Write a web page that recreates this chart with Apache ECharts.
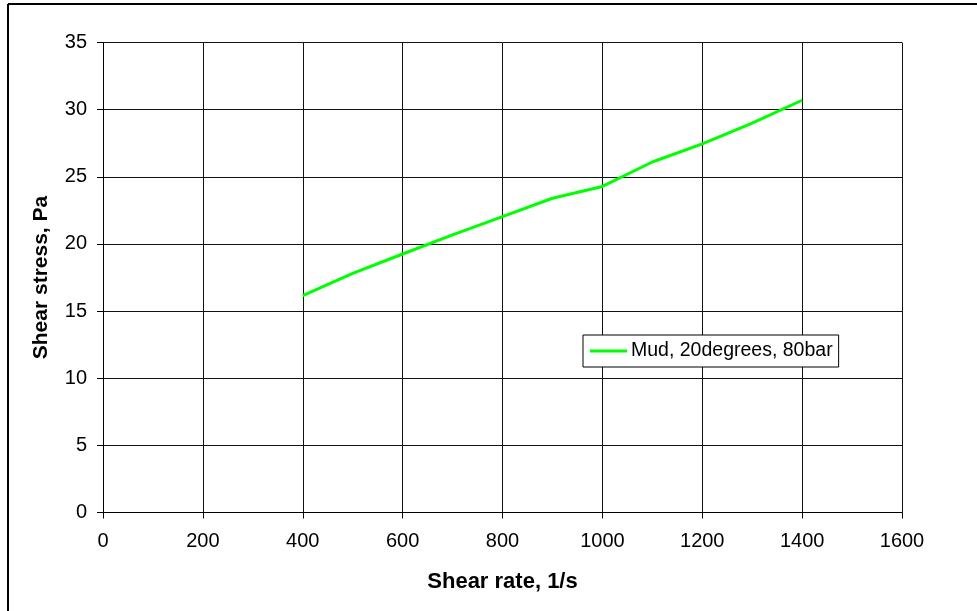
<!DOCTYPE html>
<html><head><meta charset="utf-8">
<script src="https://cdn.jsdelivr.net/npm/echarts@6/dist/echarts.min.js"></script>
<style>html,body{margin:0;padding:0;background:#fff}#c{width:977px;height:611px}</style>
</head><body><div id="c"></div>
<script>
const shearRate = [400, 500, 600, 700, 800, 900, 1000, 1100, 1200, 1300, 1400];
const shearStress = [16.15, 17.8, 19.25, 20.68, 22.04, 23.4, 24.28, 26.1, 27.45, 29.0, 30.7];
const seriesName = 'Mud, 20degrees, 80bar';
const xTitle = 'Shear rate, 1/s';
const yTitle = 'Shear stress, Pa';

const chart = echarts.init(document.getElementById('c'), null, {renderer: 'canvas'});
const font = 'Liberation Sans, Arial, sans-serif';
chart.setOption({
  animation: false,
  graphic: [
    {type: 'line', shape: {x1: 8, y1: 4, x2: 977, y2: 4}, style: {stroke: '#000', lineWidth: 2}, silent: true},
    {type: 'line', shape: {x1: 8, y1: 4, x2: 8, y2: 611}, style: {stroke: '#000', lineWidth: 2}, silent: true}
  ],
  grid: {left: 103, top: 42.5, right: 75, bottom: 98.5, containLabel: false},
  xAxis: {
    type: 'value', min: 0, max: 1600, interval: 200,
    name: xTitle, nameLocation: 'middle', nameGap: 58,
    nameTextStyle: {fontFamily: font, fontSize: 22, fontWeight: 'bold', color: '#000'},
    axisLine: {show: true, lineStyle: {color: '#000', width: 1}},
    axisTick: {show: true, inside: false, length: 6, lineStyle: {color: '#000'}},
    axisLabel: {fontFamily: font, fontSize: 20, color: '#000', margin: 19, formatter: v => String(v)},
    splitLine: {show: true, lineStyle: {color: '#111', width: 1}}
  },
  yAxis: {
    type: 'value', min: 0, max: 35, interval: 5,
    name: yTitle, nameLocation: 'middle', nameGap: 51, nameRotate: 90,
    nameTextStyle: {fontFamily: font, fontSize: 21, fontWeight: 'bold', color: '#000'},
    axisLine: {show: true, lineStyle: {color: '#000', width: 1}},
    axisTick: {show: true, inside: false, length: 6, lineStyle: {color: '#000'}},
    axisLabel: {fontFamily: font, fontSize: 20, color: '#000', margin: 16, formatter: v => String(v)},
    splitLine: {show: true, lineStyle: {color: '#111', width: 1}}
  },
  legend: {
    show: true, left: 583, top: 335, orient: 'vertical',
    backgroundColor: '#fff', borderColor: '#000', borderWidth: 1, borderRadius: 0,
    padding: [6, 6, 6, 7], itemWidth: 37, itemHeight: 3, itemGap: 4,
    icon: 'rect',
    textStyle: {fontFamily: font, fontSize: 19.5, color: '#000', padding: [0, 0, 0, -1]},
    data: [{name: seriesName, icon: 'rect'}]
  },
  series: [{
    name: seriesName, type: 'line', data: shearRate.map((x, i) => [x, shearStress[i]]),
    showSymbol: false, symbol: 'none', smooth: false,
    lineStyle: {color: '#00FF00', width: 3}, itemStyle: {color: '#00FF00'}
  }]
});
</script></body></html>
